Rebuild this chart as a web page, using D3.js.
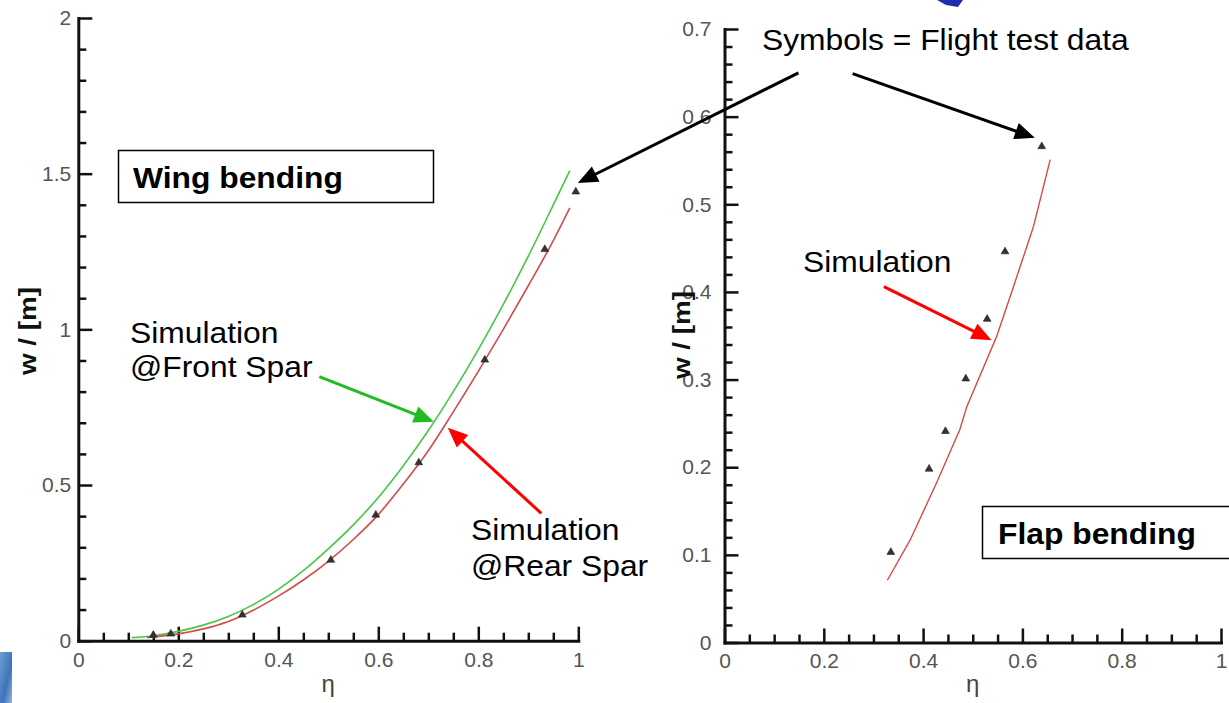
<!DOCTYPE html>
<html><head><meta charset="utf-8">
<script src="https://cdn.jsdelivr.net/npm/d3@7"></script>
<style>html,body{margin:0;padding:0;background:#fff;} svg{display:block;font-family:"Liberation Sans",Arial,sans-serif;}</style>
</head><body>
<svg id="c" width="1229" height="703"></svg>
<script>
// ---------- data ----------
const frontEta  = [0.107,0.15,0.2,0.25,0.3,0.35,0.4,0.45,0.5,0.55,0.6,0.65,0.7,0.75,0.8,0.85,0.9,0.95,0.983];
const frontSpar = [0.010,0.016,0.030,0.050,0.078,0.116,0.165,0.225,0.295,0.372,0.460,0.562,0.675,0.800,0.935,1.080,1.235,1.400,1.510];
const rearEta   = [0.137,0.15,0.2,0.25,0.3,0.35,0.4,0.45,0.5,0.55,0.6,0.65,0.7,0.75,0.8,0.85,0.9,0.95,0.983];
const rearSpar  = [0.010,0.012,0.022,0.038,0.062,0.098,0.143,0.195,0.255,0.325,0.405,0.503,0.610,0.735,0.865,1.000,1.140,1.285,1.390];
const wingTestEta = [0.15,0.185,0.328,0.505,0.595,0.681,0.813,0.933,0.995];
const wingTestW   = [0.018,0.022,0.083,0.259,0.404,0.572,0.902,1.257,1.442];
const flapEta = [0.328,0.374,0.427,0.474,0.488,0.548,0.582,0.622,0.656];
const flapSim = [0.071,0.117,0.182,0.243,0.269,0.349,0.406,0.474,0.551];
const flapTestEta = [0.335,0.412,0.445,0.486,0.529,0.565,0.639];
const flapTestW   = [0.103,0.198,0.241,0.301,0.369,0.446,0.566];
const wingXTicks = [0,0.2,0.4,0.6,0.8,1];
const wingYTicks = [0,0.5,1,1.5,2];
const flapXTicks = [0,0.2,0.4,0.6,0.8,1];
const flapYTicks = [0,0.1,0.2,0.3,0.4,0.5,0.6,0.7];

// ---------- setup ----------
const svg = d3.select("#c");
svg.append("rect").attr("width",1229).attr("height",703).attr("fill","#fff");

const defs = svg.append("defs");
const grad = defs.append("linearGradient").attr("id","bl").attr("x1",0).attr("y1",0).attr("x2",1).attr("y2",1);
grad.append("stop").attr("offset","0%").attr("stop-color","#6f9fd6");
grad.append("stop").attr("offset","60%").attr("stop-color","#3f73b8");
grad.append("stop").attr("offset","100%").attr("stop-color","#8fb6de");
svg.append("rect").attr("x",0).attr("y",652).attr("width",12).attr("height",51).attr("fill","url(#bl)");
svg.append("path").attr("d","M937,0 L963,0 L958,7 L946,5 Z").attr("fill","#1b2fae");

const xL = d3.scaleLinear().domain([0,1]).range([78.3,578.3]);
const yL = d3.scaleLinear().domain([0,2]).range([640.7,18]);
const xR = d3.scaleLinear().domain([0,1]).range([724.5,1221]);
const yR = d3.scaleLinear().domain([0,0.7]).range([642.5,29]);

function minors(max, step, majors){
  return d3.range(0, max+1e-9, step).map(v=>+v.toFixed(4)).filter(v=>!majors.some(m=>Math.abs(m-v)<1e-6));
}

function drawAxes(x, y, xt, xStep, yt, yStep, yPad){
  const g = svg.append("g");
  const fmt = d3.format("~g");
  const y0 = y(0), x0 = x(0);
  g.append("g").attr("transform",`translate(0,${y0})`)
    .call(d3.axisBottom(x).tickValues(minors(x.domain()[1],xStep,xt)).tickFormat("").tickSizeInner(-8).tickSizeOuter(0))
    .call(s=>s.select(".domain").remove());
  g.append("g").attr("transform",`translate(${x0},0)`)
    .call(d3.axisLeft(y).tickValues(minors(y.domain()[1],yStep,yt)).tickFormat("").tickSizeInner(-8).tickSizeOuter(0))
    .call(s=>s.select(".domain").remove());
  g.append("g").attr("transform",`translate(0,${y0})`)
    .call(d3.axisBottom(x).tickValues(xt).tickFormat(fmt).tickSizeInner(-14).tickSizeOuter(0).tickPadding(11));
  g.append("g").attr("transform",`translate(${x0},0)`)
    .call(d3.axisLeft(y).tickValues(yt).tickFormat(fmt).tickSizeInner(-14).tickSizeOuter(0).tickPadding(yPad));
  g.selectAll(".tick line").attr("stroke","#111").attr("stroke-width",2.5);
  g.selectAll(".domain").attr("stroke","#111").attr("stroke-width",3).attr("stroke-linecap","square");
  g.selectAll(".tick text").attr("font-family","Liberation Sans, Arial, sans-serif").attr("font-size",21).attr("fill","#555");
  return g;
}

drawAxes(xL, yL, wingXTicks, 0.05, wingYTicks, 0.1, 7);
drawAxes(xR, yR, flapXTicks, 0.05, flapYTicks, 0.02, 13);

function yTitle(xp, yp){
  svg.append("text").attr("transform",`translate(${xp},${yp}) rotate(-90)`)
    .attr("text-anchor","middle").attr("font-weight","bold").attr("font-size",23).attr("fill","#111")
    .attr("textLength",88).attr("lengthAdjust","spacingAndGlyphs").text("w / [m]");
}
yTitle(36, 331);
yTitle(690, 335);
svg.append("text").attr("x",(xL(0)+xL(1))/2).attr("y",692).attr("text-anchor","middle").attr("font-size",24).attr("fill","#444").text("η");
svg.append("text").attr("x",(xR(0)+xR(1))/2).attr("y",692).attr("text-anchor","middle").attr("font-size",24).attr("fill","#444").text("η");

// ---------- series ----------
const lineL = d3.line().x(d=>xL(d[0])).y(d=>yL(d[1])).curve(d3.curveMonotoneX);
svg.append("path").datum(frontEta.map((e,i)=>[e,frontSpar[i]])).attr("d",lineL)
  .attr("fill","none").attr("stroke","#45c845").attr("stroke-width",1.6);
svg.append("path").datum(rearEta.map((e,i)=>[e,rearSpar[i]])).attr("d",lineL)
  .attr("fill","none").attr("stroke","#d64a4a").attr("stroke-width",1.6);
const lineR = d3.line().x(d=>xR(d[0])).y(d=>yR(d[1]));
svg.append("path").datum(flapEta.map((e,i)=>[e,flapSim[i]])).attr("d",lineR)
  .attr("fill","none").attr("stroke","#d64a4a").attr("stroke-width",1.4);

const tri = d3.symbol(d3.symbolTriangle, 26);
svg.append("g").selectAll("path").data(wingTestEta.map((e,i)=>[e,wingTestW[i]])).join("path")
  .attr("d",tri).attr("transform",d=>`translate(${xL(d[0])},${yL(d[1])})`).attr("fill","#333").attr("stroke","#222").attr("stroke-width",0.6);
svg.append("g").selectAll("path").data(flapTestEta.map((e,i)=>[e,flapTestW[i]])).join("path")
  .attr("d",tri).attr("transform",d=>`translate(${xR(d[0])},${yR(d[1])})`).attr("fill","#333").attr("stroke","#222").attr("stroke-width",0.6);

// ---------- annotations ----------
function arrow(x1,y1,x2,y2,color,w){
  const dx=x2-x1, dy=y2-y1, L=Math.hypot(dx,dy), ux=dx/L, uy=dy/L;
  const hl=20, hw=8.5;
  const bx=x2-ux*hl, by=y2-uy*hl;
  svg.append("line").attr("x1",x1).attr("y1",y1).attr("x2",bx+ux*2).attr("y2",by+uy*2)
    .attr("stroke",color).attr("stroke-width",w);
  svg.append("path").attr("d",`M${x2},${y2} L${bx-uy*hw},${by+ux*hw} L${bx+uy*hw},${by-ux*hw} Z`).attr("fill",color);
}
arrow(xL(0.482),yL(0.848), xL(0.711),yL(0.703), "#22bb22", 3);
arrow(xL(0.926),yL(0.409), xL(0.739),yL(0.684), "#ff0000", 3);
arrow(xR(0.149),yR(0.650), xL(0.999),yL(1.470), "#000", 3);
arrow(xR(0.258),yR(0.649), xR(0.625),yR(0.576), "#000", 3);
arrow(xR(0.321),yR(0.406), xR(0.538),yR(0.345), "#ff0000", 3);

function label(x,y,txt,bold){
  const t = svg.append("text").attr("x",x).attr("y",y).attr("font-size",30).attr("fill","#000")
    .attr("font-weight",bold?"bold":"normal").text(txt);
  const len = t.node().getComputedTextLength();
  t.attr("textLength",len*1.06).attr("lengthAdjust","spacingAndGlyphs");
}
svg.append("rect").attr("x",118.5).attr("y",150.5).attr("width",315).attr("height",52).attr("fill","#fff").attr("stroke","#000").attr("stroke-width",1.5);
label(133,188,"Wing bending",true);
svg.append("rect").attr("x",982.5).attr("y",506.5).attr("width",260).attr("height",52).attr("fill","#fff").attr("stroke","#000").attr("stroke-width",1.5);
label(998,544,"Flap bending",true);
label(130,343,"Simulation");
label(130,377,"@Front Spar");
label(471,540,"Simulation");
label(471,576,"@Rear Spar");
label(762,50,"Symbols = Flight test data");
label(803,272,"Simulation");
</script>
</body></html>
